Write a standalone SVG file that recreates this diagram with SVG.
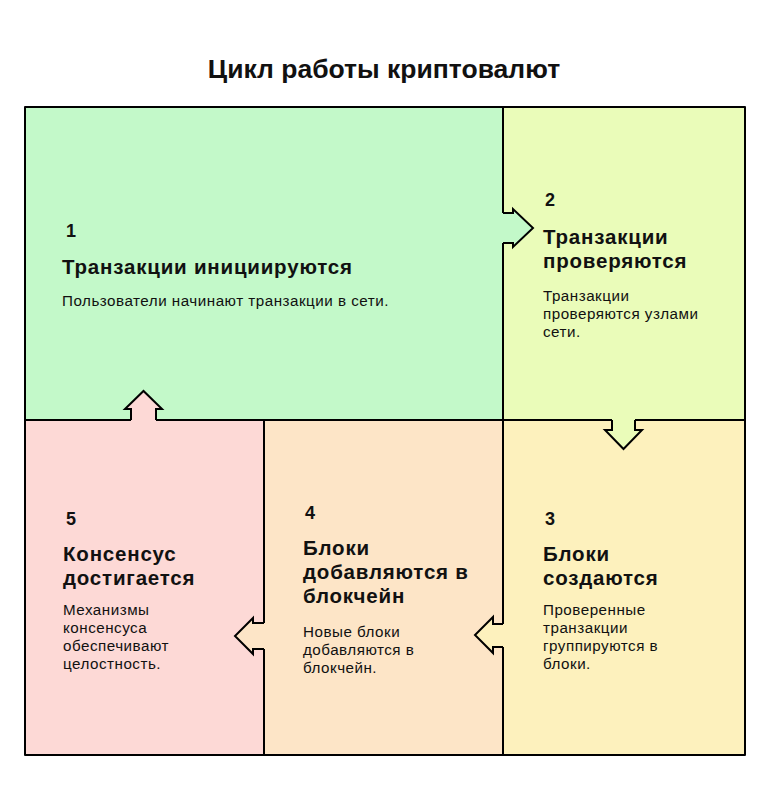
<svg xmlns="http://www.w3.org/2000/svg" width="768" height="792" viewBox="0 0 768 792">
<style>
  text { font-family: "Liberation Sans", Arial, sans-serif; fill: #111; }
  .title { font-size: 26.5px; font-weight: 700; }
  .num { font-size: 18px; font-weight: 700; }
  .head { font-size: 20.5px; font-weight: 700; letter-spacing: 0.8px; }
  .body { font-size: 15.2px; letter-spacing: 0.5px; }
  .line { stroke: #000; stroke-width: 2; fill: none; stroke-linecap: round; stroke-linejoin: round; }
  .arr { stroke: #000; stroke-width: 2; fill: none; stroke-linejoin: miter; }
</style>
<rect width="768" height="792" fill="#ffffff"/>
<text class="title" x="384" y="78" text-anchor="middle">Цикл работы криптовалют</text>

<g id="node1">
  <rect x="25" y="107" width="478" height="313" fill="#c3f9c9"/>
  <text class="num" x="66" y="237">1</text>
  <text class="head" x="62" y="274">Транзакции инициируются</text>
  <text class="body" x="62" y="306">Пользователи начинают транзакции в сети.</text>
</g>
<g id="node2">
  <rect x="503" y="107" width="242" height="313" fill="#eafcb9"/>
  <text class="num" x="545" y="206">2</text>
  <text class="head" x="543" y="244">Транзакции</text>
  <text class="head" x="543" y="268">проверяются</text>
  <text class="body" x="543" y="301">Транзакции</text>
  <text class="body" x="543" y="319">проверяются узлами</text>
  <text class="body" x="543" y="337">сети.</text>
</g>
<g id="node3">
  <rect x="503" y="420" width="242" height="335" fill="#fdf1bd"/>
  <text class="num" x="545" y="525">3</text>
  <text class="head" x="543" y="561">Блоки</text>
  <text class="head" x="543" y="585">создаются</text>
  <text class="body" x="543" y="615">Проверенные</text>
  <text class="body" x="543" y="633">транзакции</text>
  <text class="body" x="543" y="651">группируются в</text>
  <text class="body" x="543" y="669">блоки.</text>
</g>
<g id="node4">
  <rect x="264" y="420" width="239" height="335" fill="#fde5c7"/>
  <text class="num" x="305" y="519">4</text>
  <text class="head" x="303" y="555">Блоки</text>
  <text class="head" x="303" y="579">добавляются в</text>
  <text class="head" x="303" y="603">блокчейн</text>
  <text class="body" x="303" y="637">Новые блоки</text>
  <text class="body" x="303" y="655">добавляются в</text>
  <text class="body" x="303" y="673">блокчейн.</text>
</g>
<g id="node5">
  <rect x="25" y="420" width="239" height="335" fill="#fdd9d6"/>
  <text class="num" x="66" y="525">5</text>
  <text class="head" x="63" y="561">Консенсус</text>
  <text class="head" x="63" y="585">достигается</text>
  <text class="body" x="63" y="615">Механизмы</text>
  <text class="body" x="63" y="633">консенсуса</text>
  <text class="body" x="63" y="651">обеспечивают</text>
  <text class="body" x="63" y="669">целостность.</text>
</g>

<g id="grid">
  <rect class="line" x="25" y="107" width="720" height="648"/>
  <line class="line" x1="503" y1="107" x2="503" y2="755"/>
  <line class="line" x1="25" y1="420" x2="745" y2="420"/>
  <line class="line" x1="264" y1="420" x2="264" y2="755"/>
</g>

<g id="connectors">
  <!-- 1 -> 2 -->
  <path d="M500,213 H513 V209 L533,228 L513,247 V243 H500 Z" fill="#c3f9c9"/>
  <path class="arr" d="M503,213 H513 V209 L533,228 L513,247 V243 H503"/>
  <!-- 2 -> 3 -->
  <path d="M612,417 V430 H605 L623.5,449 L642,430 H635 V417 Z" fill="#eafcb9"/>
  <path class="arr" d="M612,420 V430 H605 L623.5,449 L642,430 H635 V420"/>
  <!-- 3 -> 4 -->
  <path d="M506,624 H493 V617 L475,635 L493,653 V647 H506 Z" fill="#fdf1bd"/>
  <path class="arr" d="M503,624 H493 V617 L475,635 L493,653 V647 H503"/>
  <!-- 4 -> 5 -->
  <path d="M267,623 H253 V618 L235,636 L253,654 V649 H267 Z" fill="#fde5c7"/>
  <path class="arr" d="M264,623 H253 V618 L235,636 L253,654 V649 H264"/>
  <!-- 5 -> 1 -->
  <path d="M131,423 V409 H125 L143.5,391 L162,409 H156 V423 Z" fill="#fdd9d6"/>
  <path class="arr" d="M131,420 V409 H125 L143.5,391 L162,409 H156 V420"/>
</g>
</svg>
